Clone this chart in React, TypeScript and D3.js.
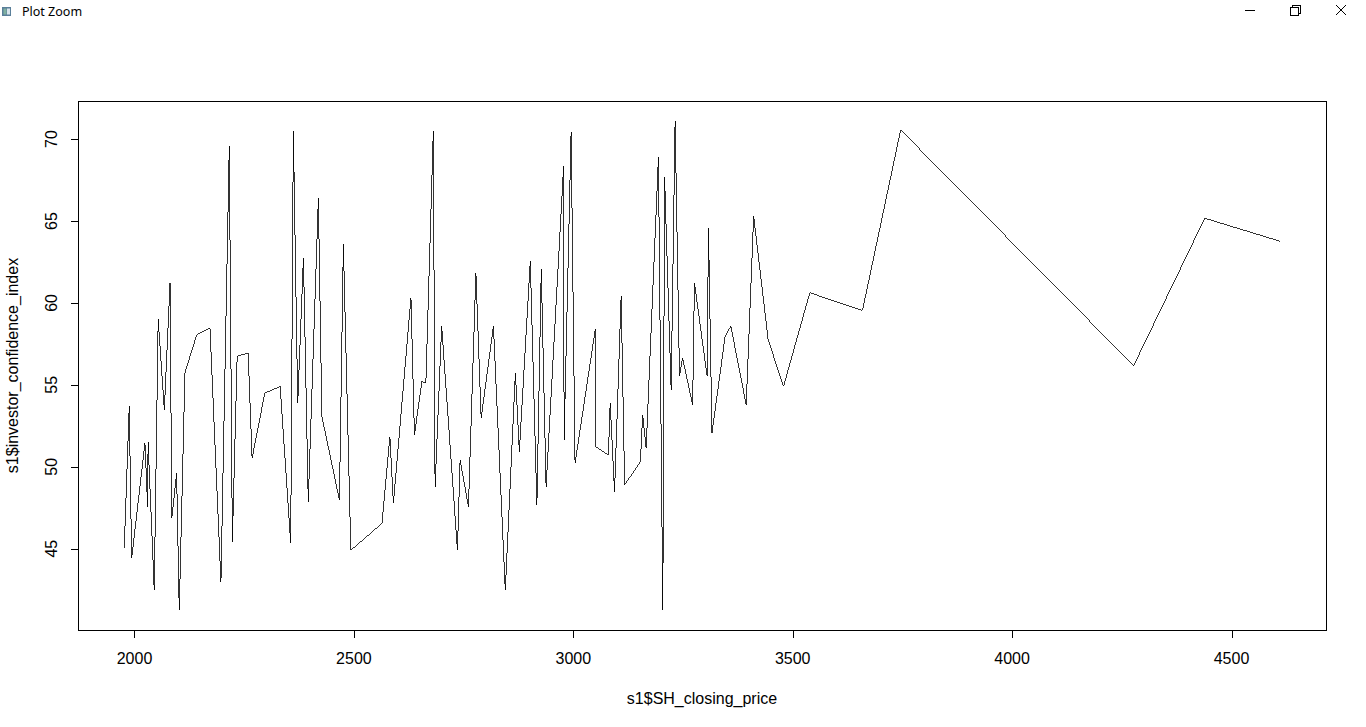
import React from "react";
import * as d3 from "d3";

// s1$SH_closing_price (x) and s1$investor_confidence_index (y), in data order
const closingPrice = [
  1976.6, 1988, 1993.5, 2023.8, 2030, 2031, 2045, 2054, 2068, 2081,
  2085, 2096, 2102, 2115, 2142, 2172, 2197, 2216, 2223, 2234,
  2259, 2268, 2297, 2332, 2356, 2362, 2372, 2385, 2396, 2419,
  2427, 2467, 2476, 2493, 2564, 2582, 2590, 2630, 2638, 2655,
  2664, 2681, 2685, 2700, 2736, 2742, 2761, 2778, 2790, 2818,
  2845, 2868, 2877, 2902, 2917, 2927, 2938, 2978, 2979, 2995,
  3004, 3050, 3051, 3080, 3084, 3094, 3109, 3117, 3153, 3158,
  3166, 3194, 3204, 3208, 3223, 3232, 3242, 3249, 3272, 3276,
  3305, 3308, 3316, 3346, 3359, 3394, 3411, 3444, 3479, 3539,
  3659, 3746, 4277, 4439, 4610,
];
const confidenceIndex = [
  45.01, 53.68, 44.4, 51.44, 47.56, 51.54, 42.46, 58.99, 53.48, 61.24,
  46.86, 49.6, 41.23, 55.74, 58.07, 58.48, 42.96, 69.6, 45.41, 56.74,
  56.95, 50.52, 54.5, 54.9, 45.32, 70.52, 53.89, 62.77, 47.86, 66.38,
  53.07, 47.97, 63.58, 44.9, 46.54, 51.84, 47.76, 60.32, 51.95, 55.21,
  55.11, 70.52, 48.78, 58.58, 44.9, 50.42, 47.56, 61.85, 52.97, 58.58,
  42.46, 55.73, 50.92, 62.56, 47.66, 62.05, 48.78, 68.38, 51.64, 70.42,
  50.21, 58.38, 51.23, 50.72, 53.89, 48.47, 60.42, 48.89, 50.31, 53.17,
  51.13, 68.89, 41.23, 67.67, 54.7, 71.13, 55.52, 56.64, 53.78, 61.24,
  55.52, 64.6, 52.05, 57.97, 58.58, 53.78, 65.31, 57.76, 54.9, 60.62,
  59.54, 70.56, 56.17, 65.17, 63.77,
];
const xTicks = [2000, 2500, 3000, 3500, 4000, 4500];
const yTicks = [45, 50, 55, 60, 65, 70];
const xLabel = "s1$SH_closing_price";
const yLabel = "s1$investor_confidence_index";
const windowTitle = "Plot Zoom";

const W = 1366;
const H = 727;
const left = 78;
const right = 1326;
const top = 101;
const bottom = 630;
const FONT = "'Liberation Sans', Arial, sans-serif";

function padded(values: number[]): [number, number] {
  const [lo, hi] = d3.extent(values) as [number, number];
  const pad = (hi - lo) * 0.04;
  return [lo - pad, hi + pad];
}

export default function App() {
  const x = d3.scaleLinear().domain(padded(closingPrice)).range([left, right]);
  const y = d3.scaleLinear().domain(padded(confidenceIndex)).range([bottom, top]);
  const pts: [number, number][] = closingPrice.map((v, i) => [v, confidenceIndex[i]]);
  const line = d3
    .line<[number, number]>()
    .x((d) => x(d[0]))
    .y((d) => y(d[1]));
  const midX = (left + right) / 2;
  const midY = (top + bottom) / 2;

  return (
    <div style={{ position: "absolute", left: 0, top: 0, width: W, height: H, background: "#fff" }}>
      <svg width={W} height={H} style={{ display: "block" }} fontFamily={FONT}>
        <rect x={0} y={0} width={W} height={H} fill="#ffffff" />
        {/* window chrome */}
        <g>
          <rect x={2} y={7} width={9} height={9} fill="#5a7f9a" />
          <rect x={3.5} y={8.5} width={3} height={6} fill="#7fb0a0" />
          <rect x={7} y={8.5} width={3} height={6} fill="#d8e4ec" />
          <text x={22} y={16} fontSize={12.5} fill="#000" fontFamily="'Noto Sans', 'Liberation Sans', sans-serif">
            {windowTitle}
          </text>
          <line x1={1245} x2={1255} y1={10.5} y2={10.5} stroke="#000" strokeWidth={1} shapeRendering="crispEdges" />
          <rect x={1290.5} y={7.5} width={8} height={8} fill="none" stroke="#000" strokeWidth={1} shapeRendering="crispEdges" />
          <path d="M1292.5,7.5 V5.5 H1300.5 V13.5 H1298.5" fill="none" stroke="#000" strokeWidth={1} shapeRendering="crispEdges" />
          <path d="M1336,5 L1346,15 M1346,5 L1336,15" stroke="#000" strokeWidth={1} />
        </g>

        {/* data line */}
        <path d={line(pts) ?? ""} fill="none" stroke="#000" strokeWidth={0.8} shapeRendering="crispEdges" />

        {/* box */}
        <rect
          x={left + 0.5}
          y={top + 0.5}
          width={right - left}
          height={bottom - top}
          fill="none"
          stroke="#000"
          strokeWidth={1}
          shapeRendering="crispEdges"
        />

        {/* x axis */}
        <g>
          {xTicks.map((t) => (
            <g key={t}>
              <line x1={Math.round(x(t)) + 0.5} x2={Math.round(x(t)) + 0.5} y1={bottom + 0.5} y2={bottom + 8} stroke="#000" shapeRendering="crispEdges" />
              <text x={x(t)} y={664} fontSize={16} textAnchor="middle" fill="#000">
                {t}
              </text>
            </g>
          ))}
          <text x={midX} y={704} fontSize={16} textAnchor="middle" fill="#000">
            {xLabel}
          </text>
        </g>

        {/* y axis */}
        <g>
          {yTicks.map((t) => (
            <g key={t}>
              <line x1={left - 7} x2={left + 0.5} y1={Math.round(y(t)) + 0.5} y2={Math.round(y(t)) + 0.5} stroke="#000" shapeRendering="crispEdges" />
              <text
                transform={`translate(${57},${y(t)}) rotate(-90)`}
                fontSize={16}
                textAnchor="middle"
                fill="#000"
              >
                {t}
              </text>
            </g>
          ))}
          <text transform={`translate(${18},${midY}) rotate(-90)`} fontSize={16} textAnchor="middle" fill="#000">
            {yLabel}
          </text>
        </g>
      </svg>
    </div>
  );
}
